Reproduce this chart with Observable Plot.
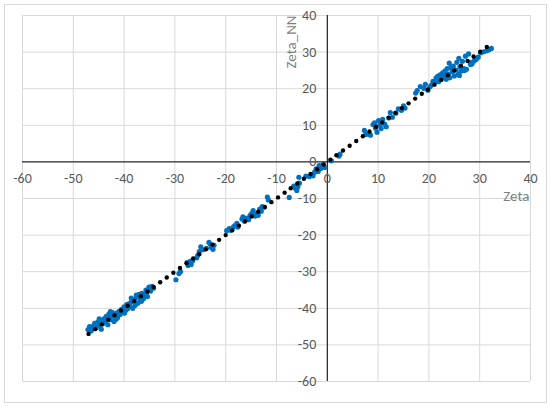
<!DOCTYPE html>
<html>
<head>
<meta charset="utf-8">
<script src="https://cdn.jsdelivr.net/npm/d3@7"></script>
<script src="https://cdn.jsdelivr.net/npm/@observablehq/plot@0.6"></script>
<style>
  html, body { margin: 0; padding: 0; background: #fff; }
  #wrap { position: relative; width: 550px; height: 406px; }
  #border { position: absolute; left: 4px; top: 4px; width: 541px; height: 397px; border: 1px solid #d9d9d9; pointer-events: none; }
</style>
</head>
<body>
<div id="wrap"><div id="border"></div></div>
<script>
// Tick values
const xTicks = [-60, -50, -40, -30, -20, -10, 0, 10, 20, 30, 40];
const yTicks = [-60, -50, -40, -30, -20, -10, 0, 10, 20, 30, 40];

// Reference (ideal) points: Zeta vs Zeta
const refZeta = [-47.0, -45.7, -44.4, -43.1, -41.9, -40.6, -39.3, -38.0, -36.7, -35.4, -34.2, -32.9, -31.6, -30.3, -29.0, -27.7, -26.4, -25.2, -23.9, -22.6, -21.3, -20.0, -18.7, -17.4, -16.2, -14.9, -13.6, -12.3, -11.0, -9.7, -8.4, -7.2, -5.9, -4.6, -3.3, -2.0, -0.7, 0.6, 1.8, 3.1, 4.4, 5.7, 7.0, 8.3, 9.6, 10.8, 12.1, 13.4, 14.7, 16.0, 17.3, 18.6, 19.8, 21.1, 22.4, 23.7, 25.0, 26.3, 27.6, 28.8, 30.1, 31.4];

// Network predictions: Zeta (x) and Zeta_NN (y)
const zeta = [
  -47.1, -46.8, -46.5, -46.1, -45.8, -45.5, -45.2, -45.0, -44.7, -44.5, -44.2, -43.9, -43.7, -43.5, -43.2, -43.0, -42.8, -42.5, -42.3, -42.0,
  -41.8, -41.5, -41.3, -41.0, -40.8, -40.5, -40.3, -40.0, -39.7, -39.5, -39.3, -39.0, -38.8, -38.5, -38.3, -38.0, -37.8, -37.5, -37.3, -37.0,
  -36.8, -36.5, -36.2, -36.0, -35.7, -35.4, -35.1, -34.8, -34.5, -34.2, -46.3, -44.9, -42.7, -41.6, -39.9, -38.6, -37.6, -36.6, -35.6,
  -29.8, -29.2, -28.9, -27.6, -27.4, -27.0, -26.8, -26.5, -25.7, -25.5, -25.2, -24.9, -24.5, -23.8, -23.3, -23.0, -22.8, -22.5, -22.3,
  -19.8, -19.3, -19.0, -18.5, -18.2, -17.8, -17.6, -16.8, -16.6, -16.3, -15.9, -15.5, -15.2, -14.9, -14.6, -14.2, -14.0, -13.6, -13.3, -13.0, -12.8, -12.4, -11.8, -11.6,
  -7.5, -6.6, -6.3, -6.0, -5.8, -5.5, -5.6, -4.2, -3.5, -2.8, -2.5, -2.2, -1.8, -1.6, -1.3, -0.9, -0.5, 0.8, 2.3, 2.5,
  7.3, 7.6, 8.3, 8.5, 9.0, 9.3, 9.5, 9.8, 10.1, 10.3, 10.6, 10.9, 11.3, 11.6, 12.1, 12.4, 12.8, 13.5, 14.0, 14.6, 15.0, 15.3,
  17.4, 17.7, 18.3, 19.0, 19.3, 19.8, 20.2, 20.5, 20.8, 21.1, 21.4, 21.7, 21.9, 22.2, 22.4, 22.7, 22.9, 23.2, 23.4, 23.6,
  23.9, 24.1, 24.3, 24.6, 24.8, 25.0, 25.3, 25.5, 25.8, 26.1, 26.3, 26.6, 26.9, 27.2, 27.4, 27.8, 28.1, 28.5, 28.9, 29.3,
  29.7, 30.2, 30.8, 31.4, 31.9, 32.3, 24.0, 22.0, 23.0, 25.9, 26.0, 27.0, 28.2
];
const zetaNN = [
  -45.8, -45.0, -46.2, -44.9, -44.1, -45.3, -43.8, -44.6, -43.2, -45.7, -44.2, -42.8, -43.7, -42.2, -44.5, -41.6, -43.1, -42.4, -41.2, -43.6,
  -42.0, -41.3, -42.6, -40.8, -41.7, -40.3, -41.2, -39.6, -40.6, -39.0, -40.1, -38.7, -39.5, -38.2, -40.0, -37.6, -39.2, -37.0, -38.6, -36.2,
  -37.8, -35.9, -37.4, -36.5, -35.0, -36.8, -34.2, -35.3, -34.0, -34.5, -45.6, -42.9, -40.9, -43.0, -41.3, -37.2, -36.4, -38.1, -35.8,
  -32.2, -30.5, -30.0, -27.5, -28.3, -27.2, -28.0, -27.0, -26.2, -25.5, -24.5, -23.2, -24.0, -23.6, -22.0, -22.5, -23.4, -23.9, -22.8,
  -18.8, -18.2, -18.7, -17.8, -17.4, -16.8, -17.8, -15.6, -15.0, -16.2, -15.4, -15.8, -14.6, -14.1, -13.3, -14.8, -14.2, -14.6, -12.9, -13.5, -12.2, -12.4, -9.6, -10.4,
  -9.7, -6.6, -7.2, -7.8, -6.8, -5.8, -4.2, -3.9, -4.0, -3.8, -2.8, -1.9, -2.6, -1.0, -1.8, -0.8, -1.5, 0.3, 1.6, 2.1,
  8.6, 7.5, 7.6, 7.3, 10.2, 10.7, 9.2, 8.1, 11.3, 10.0, 9.1, 11.6, 10.3, 9.6, 12.0, 13.5, 12.2, 13.3, 14.5, 14.1, 15.3, 14.7,
  18.8, 19.5, 20.6, 20.1, 21.2, 19.6, 20.5, 21.0, 22.0, 21.8, 22.9, 23.4, 21.9, 23.8, 22.5, 24.3, 23.1, 24.9, 22.6, 25.5,
  24.0, 23.0, 25.8, 24.7, 26.2, 23.5, 25.1, 27.2, 23.9, 26.0, 24.8, 27.5, 25.5, 28.9, 25.3, 29.5, 27.2, 26.8, 27.6, 28.0,
  28.6, 29.8, 30.1, 30.4, 30.7, 31.0, 27.0, 23.0, 24.4, 28.3, 23.6, 25.0, 26.6
];

const points = zeta.map((x, i) => ({x, y: zetaNN[i]}));
const ref = refZeta.map(v => ({x: v, y: v}));

const font = "Carlito, Calibri, 'Liberation Sans', sans-serif";

const chart = Plot.plot({
  width: 550,
  height: 406,
  marginLeft: 22,
  marginRight: 20,
  marginTop: 15,
  marginBottom: 25,
  x: {domain: [-60, 40], axis: null},
  y: {domain: [-60, 40], axis: null},
  style: {fontFamily: font, background: "transparent", overflow: "visible"},
  marks: [
    Plot.ruleX(xTicks, {stroke: "#d9d9d9", strokeWidth: 1}),
    Plot.ruleY(yTicks, {stroke: "#d9d9d9", strokeWidth: 1}),
    Plot.ruleX([0], {stroke: "#000", strokeWidth: 1}),
    Plot.ruleY([0], {stroke: "#000", strokeWidth: 1}),
    Plot.dot(points, {x: "x", y: "y", r: 2.6, fill: "#0070c0", stroke: "none"}),
    Plot.dot(ref, {x: "x", y: "y", r: 2.2, fill: "#000", stroke: "none"}),
    Plot.text(xTicks, {x: d => d, y: () => 0, dy: 17, text: d => String(d), fill: "#595959", fontSize: 14, textAnchor: "middle"}),
    Plot.text(yTicks, {x: () => 0, y: d => d, dx: -11, text: d => String(d), fill: "#595959", fontSize: 14, textAnchor: "end"}),
    Plot.text(["Zeta"], {x: () => 40, y: () => 0, dy: 34, dx: -1, text: d => d, fill: "#7f7f7f", fontSize: 15, textAnchor: "end"}),
    Plot.text(["Zeta_NN"], {x: () => 0, y: () => 40, dx: -36, dy: 0, rotate: -90, text: d => d, fill: "#7f7f7f", fontSize: 15, textAnchor: "end", lineAnchor: "middle"})
  ]
});
document.getElementById("wrap").prepend(chart);
</script>
</body>
</html>
